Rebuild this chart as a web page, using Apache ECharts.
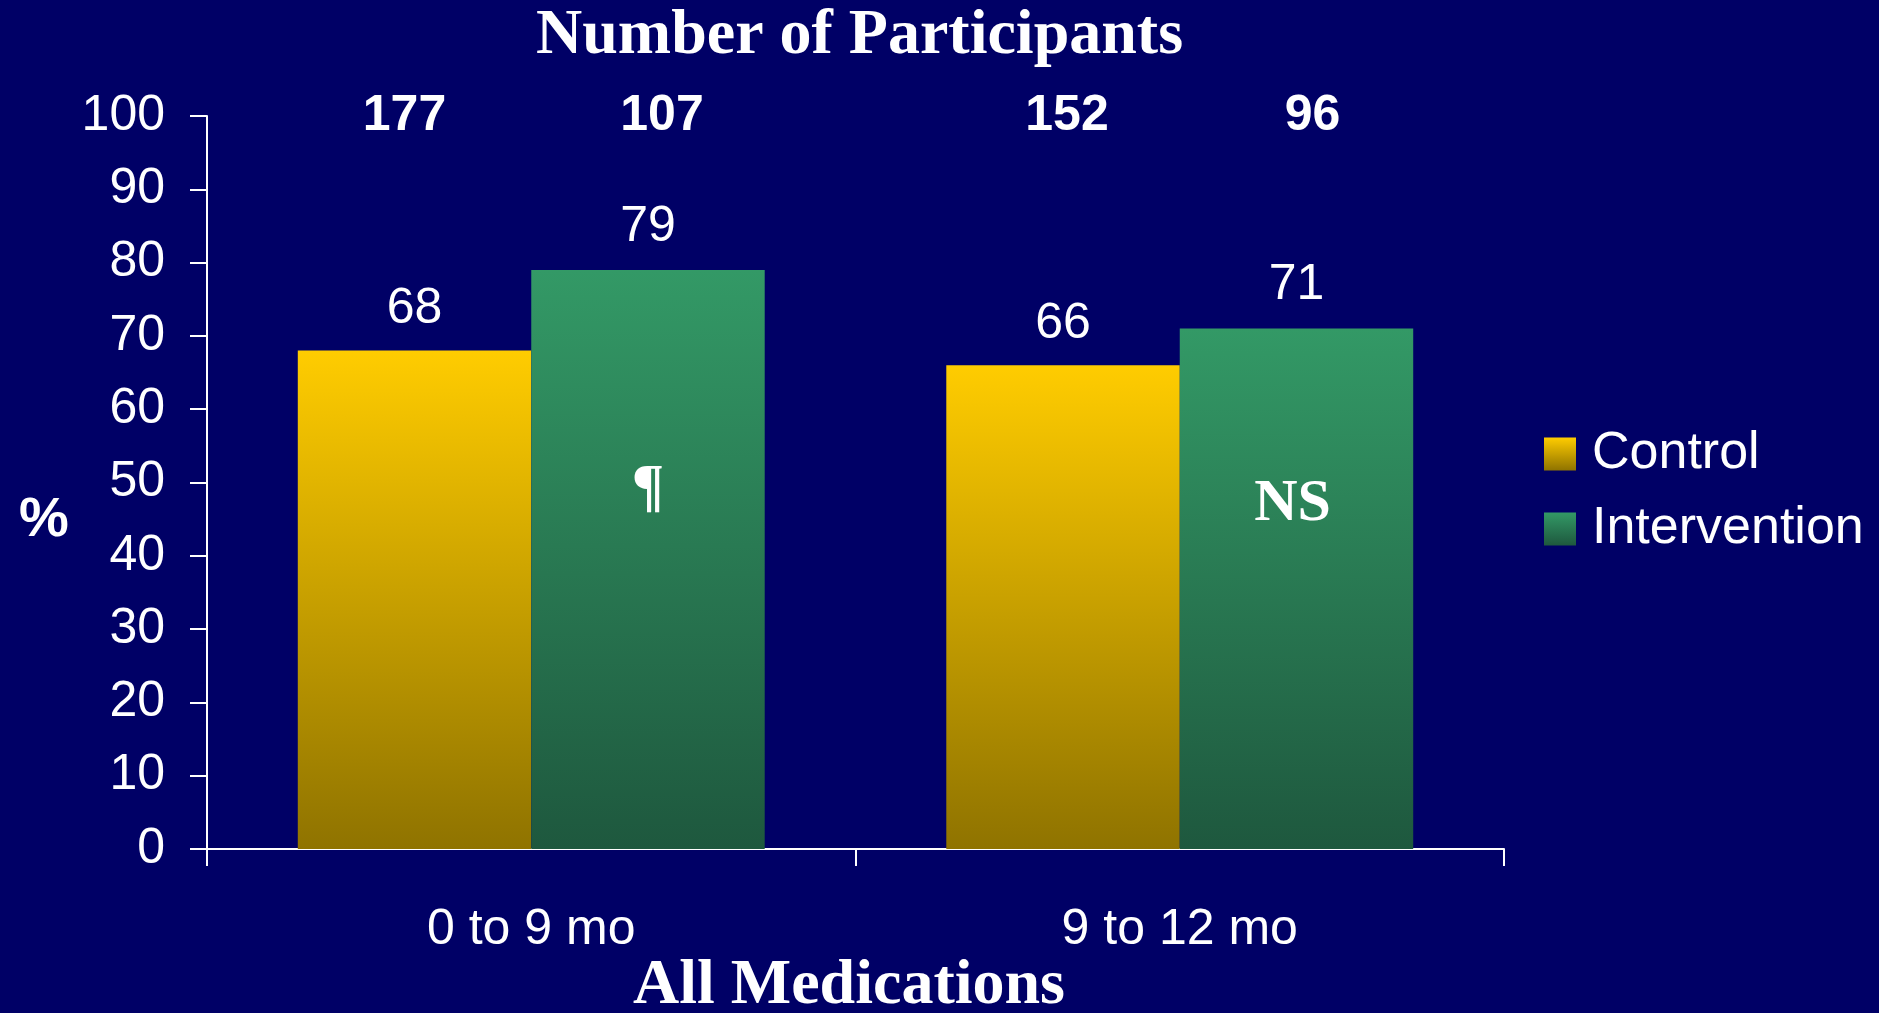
<!DOCTYPE html>
<html>
<head>
<meta charset="utf-8">
<script src="https://cdn.jsdelivr.net/npm/echarts@6/dist/echarts.min.js"></script>
<style>
  html, body { margin: 0; padding: 0; background: #000066; }
  #chart { width: 1879px; height: 1013px; }
</style>
</head>
<body>
<div id="chart"></div>
<script>
// values
var periods = ['0 to 9 mo', '9 to 12 mo'];
var controlPct = [68, 66];
var interventionPct = [79, 71];
var controlN = [177, 152];
var interventionN = [107, 96];
var notes = ['¶', 'NS'];
var noteAt = [49, 47];      // where the note sits on the % scale
var yTicks = { min: 0, max: 100, step: 10 };

var sans = 'Liberation Sans';
var serif = 'Liberation Serif';

function grad(top, bottom) {
  return new echarts.graphic.LinearGradient(0, 0, 0, 1, [
    { offset: 0, color: top },
    { offset: 1, color: bottom }
  ]);
}

// participant counts shown in a row at the 100 line
// (the slide has them nudged a bit off the bar centres)
function countPoints(ns, nudge) {
  return ns.map(function (n, i) {
    return {
      coord: [periods[i], yTicks.max], value: n, name: String(n),
      label: { offset: [nudge[i], 0] }
    };
  });
}

var chart = echarts.init(document.getElementById('chart'));

chart.setOption({
  backgroundColor: '#000066',
  animation: false,
  title: [
    {
      text: 'Number of Participants',
      left: 536, top: 4, padding: 0,
      textStyle: { color: '#fff', fontFamily: serif, fontWeight: 'bold', fontSize: 64 }
    },
    {
      text: 'All Medications',
      left: 633, top: 954, padding: 0,
      textStyle: { color: '#fff', fontFamily: serif, fontWeight: 'bold', fontSize: 64 }
    }
  ],
  graphic: [{
    type: 'text',
    x: 44, y: 521,
    style: {
      text: '%', fill: '#fff', font: 'bold 56px ' + sans,
      align: 'center', verticalAlign: 'middle'
    }
  }],
  legend: {
    orient: 'vertical',
    left: 1544, top: 428,
    padding: 0,
    itemWidth: 32, itemHeight: 33, itemGap: 23,
    icon: 'rect',
    selectedMode: false,
    textStyle: { color: '#fff', fontFamily: sans, fontSize: 52, padding: [0, 0, 0, 11] },
    data: ['Control', 'Intervention']
  },
  grid: { left: 207, right: 375, top: 116, bottom: 164 },
  xAxis: {
    type: 'category',
    data: periods,
    axisLine: { lineStyle: { color: '#fff', width: 2 } },
    axisTick: { show: true, length: 17, lineStyle: { color: '#fff', width: 2 } },
    axisLabel: { color: '#fff', fontFamily: sans, fontSize: 50, margin: 56 }
  },
  yAxis: {
    type: 'value',
    min: yTicks.min, max: yTicks.max, interval: yTicks.step,
    splitLine: { show: false },
    axisLine: { show: true, lineStyle: { color: '#fff', width: 2 } },
    axisTick: { show: true, length: 17, lineStyle: { color: '#fff', width: 2 } },
    axisLabel: { color: '#fff', fontFamily: sans, fontSize: 50, margin: 42 }
  },
  series: [
    {
      name: 'Control',
      type: 'bar',
      data: controlPct,
      barGap: '0%',
      barCategoryGap: '28%',
      itemStyle: { color: grad('#ffcc00', '#8f7300') },
      label: {
        show: true, position: 'top', distance: 16,
        color: '#fff', fontFamily: sans, fontSize: 50
      },
      markPoint: {
        symbolSize: 0,
        label: {
          show: true, position: 'inside', formatter: '{b}',
          color: '#fff', fontFamily: sans, fontWeight: 'bold', fontSize: 50
        },
        data: countPoints(controlN, [-10, 4])
      }
    },
    {
      name: 'Intervention',
      type: 'bar',
      data: interventionPct,
      barGap: '0%',
      barCategoryGap: '28%',
      itemStyle: { color: grad('#339966', '#1e583e') },
      label: {
        show: true, position: 'top', distance: 18,
        color: '#fff', fontFamily: sans, fontSize: 50
      },
      markPoint: {
        symbolSize: 0,
        label: {
          show: true, position: 'inside', formatter: '{b}',
          color: '#fff', fontFamily: sans, fontWeight: 'bold', fontSize: 50
        },
        data: countPoints(interventionN, [14, 16]).concat(notes.map(function (t, i) {
          return {
            name: t, coord: [periods[i], noteAt[i]],
            label: { fontFamily: serif, fontSize: 60, fontWeight: 'bold', offset: [i ? -4 : 0, 0] }
          };
        }))
      }
    }
  ]
});
</script>
</body>
</html>
